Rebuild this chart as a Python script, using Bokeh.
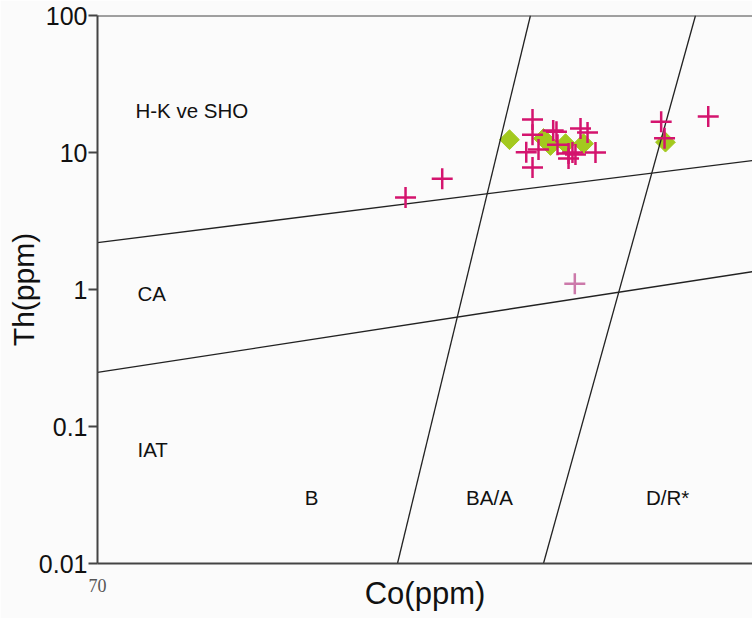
from bokeh.plotting import figure
from bokeh.models import Range1d, FixedTicker, CustomJSTickFormatter, Label, Span
from bokeh.embed import file_html
from bokeh.resources import INLINE
import math

# ---- data ----
# Boundary lines (Co, Th endpoints)
hk_ca_co = [70, 0]
hk_ca_th = [2.2, 8.74]
ca_iat_co = [70, 0]
ca_iat_th = [0.248, 1.35]
b_ba_co = [37.94, 23.73]
b_ba_th = [0.01, 100]
ba_dr_co = [22.34, 6.09]
ba_dr_th = [0.01, 100]

# Samples: crosses (magenta)
cross_co = [37.08, 33.16, 23.51, 23.51, 24.18, 22.87, 23.51, 21.30, 20.95, 20.84,
            19.66, 19.24, 18.92, 18.38, 17.63, 16.78, 19.66, 9.76, 9.40, 4.73]
cross_th = [4.70, 6.43, 17.4, 13.5, 10.05, 10.5, 7.77, 14.5, 14.2, 11.4,
            9.83, 10.0, 9.67, 15.0, 14.0, 10.0, 9.04, 16.8, 12.7, 18.3]
# pale cross
pale_co = [18.99]
pale_th = [1.10]
# diamonds (yellow-green)
dia_co = [25.97, 22.34, 21.59, 19.98, 18.06, 9.30]
dia_th = [12.4, 12.65, 11.25, 11.6, 11.6, 11.9]

y_ticks = [0.01, 0.1, 1, 10, 100]
x_ticks = [70]

BG = "#fbfbfb"
p = figure(width=752, height=618, x_range=Range1d(70, 0), y_range=Range1d(0.01, 100),
           y_axis_type="log", output_backend="svg", toolbar_location=None,
           min_border_left=97, min_border_right=0, min_border_top=15, min_border_bottom=55,
           background_fill_color=BG, border_fill_color=BG, outline_line_color=None)
p.grid.visible = False

# y axis
ya = p.yaxis[0]
ya.ticker = FixedTicker(ticks=y_ticks)
ya.formatter = CustomJSTickFormatter(code="return String(tick)")
ya.major_tick_out = 9
ya.major_tick_in = 0
ya.minor_tick_out = 0
ya.minor_tick_in = 0
ya.axis_line_width = 2
ya.axis_line_color = "#444444"
ya.major_tick_line_width = 2
ya.major_tick_line_color = "#444444"
ya.major_label_text_font = "Liberation Sans"
ya.major_label_text_font_size = "25px"
ya.major_label_text_color = "#111111"
ya.major_label_standoff = 1
ya.axis_label = "Th(ppm)"
ya.axis_label_text_font = "Liberation Sans"
ya.axis_label_text_font_size = "30px"
ya.axis_label_text_font_style = "normal"
ya.axis_label_text_color = "#111111"
ya.axis_label_standoff = -4

# x axis
xa = p.xaxis[0]
xa.ticker = FixedTicker(ticks=x_ticks)
xa.major_tick_out = 0
xa.major_tick_in = 0
xa.minor_tick_out = 0
xa.minor_tick_in = 0
xa.axis_line_width = 2
xa.axis_line_color = "#444444"
xa.major_label_text_font = "Liberation Serif"
xa.major_label_text_font_size = "18px"
xa.major_label_text_color = "#555555"
xa.major_label_standoff = 15
xa.axis_label = "Co(ppm)"
xa.axis_label_text_font = "Liberation Sans"
xa.axis_label_text_font_size = "31px"
xa.axis_label_text_font_style = "normal"
xa.axis_label_text_color = "#111111"
xa.axis_label_standoff = -19

# top border
p.add_layout(Span(location=100, dimension="width", line_color="#444444", line_width=2))

# diamonds
p.scatter(dia_co, dia_th, marker="square", angle=math.pi / 4, size=14,
          fill_color="#a3c91e", line_color="#a3c91e", line_width=1)

# boundary lines
for xs, ys in [(hk_ca_co, hk_ca_th), (ca_iat_co, ca_iat_th), (b_ba_co, b_ba_th), (ba_dr_co, ba_dr_th)]:
    p.line(xs, ys, line_color="#222222", line_width=1.3)

# crosses
p.scatter(cross_co, cross_th, marker="cross", size=21, line_color="#d4146e", line_width=2.5)
p.scatter(pale_co, pale_th, marker="cross", size=21, line_color="#cc79aa", line_width=2.5)

# region labels
lbl = dict(text_font="Liberation Sans", text_font_size="20.5px", text_color="#111111",
           text_baseline="middle")
p.add_layout(Label(x=65.94, y=20.3, text="H-K ve SHO", text_align="left", **lbl))
p.add_layout(Label(x=65.73, y=0.935, text="CA", text_align="left", **lbl))
p.add_layout(Label(x=65.73, y=0.068, text="IAT", text_align="left", **lbl))
p.add_layout(Label(x=47.13, y=0.0303, text="B", text_align="center", **lbl))
p.add_layout(Label(x=28.11, y=0.0303, text="BA/A", text_align="center", **lbl))
p.add_layout(Label(x=9.08, y=0.0303, text="D/R*", text_align="center", **lbl))

open("out.html", "w").write(file_html(p, INLINE))
